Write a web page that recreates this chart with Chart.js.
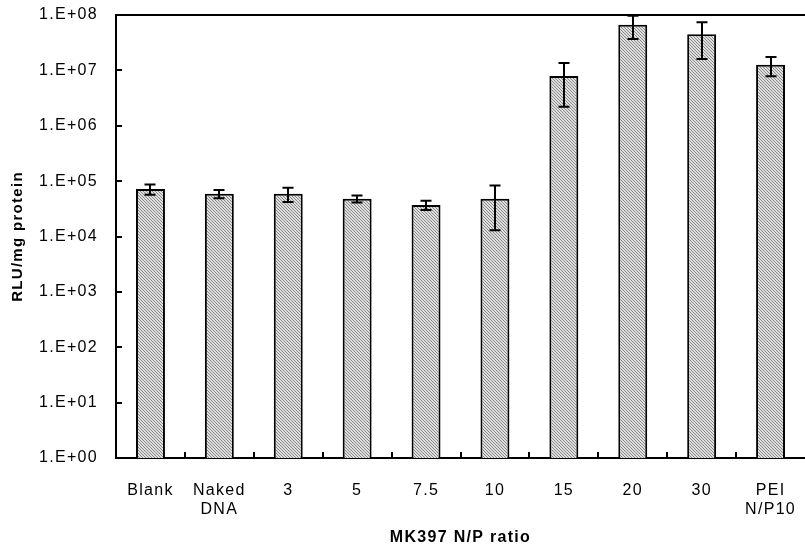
<!DOCTYPE html>
<html>
<head>
<meta charset="utf-8">
<script src="https://cdn.jsdelivr.net/npm/chart.js@4.4.0/dist/chart.umd.min.js"></script>
<style>
  html, body { margin: 0; padding: 0; background: #fff; }
  #wrap { width: 805px; height: 550px; }
</style>
</head>
<body>
<div id="wrap"><canvas id="c" width="805" height="550"></canvas></div>
<script>
// data
const categories = ['Blank', ['Naked', 'DNA'], '3', '5', '7.5', '10', '15', '20', '30', ['PEI', 'N/P10']];
const rlu = [7.2e4, 5.9e4, 5.9e4, 4.8e4, 3.7e4, 4.8e4, 7.9e6, 6.7e7, 4.5e7, 1.26e7];
const rluErr = [1.5e4, 1.0e4, 1.7e4, 7e3, 7e3, 3.5e4, 5.7e6, 3.0e7, 2.9e7, 4.8e6];
const yTicks = [1, 10, 100, 1e3, 1e4, 1e5, 1e6, 1e7, 1e8];

// hatched fill like the old Excel pattern
function hatch() {
    const p = document.createElement('canvas');
    p.width = 3; p.height = 3;
    const g = p.getContext('2d');
    g.fillStyle = '#dedede';
    g.fillRect(0, 0, 3, 3);
    g.fillStyle = '#8a8a8a';
    for (let i = 0; i < 3; i++) g.fillRect(i, i, 1, 1);
    return g.createPattern(p, 'repeat');
}

const ctx = document.getElementById('c').getContext('2d');

// the source text is set a bit loose, so widen it
const spacing = {
    id: 'spacing',
    beforeLayout(chart) { chart.ctx.letterSpacing = '1.3px'; },
    beforeDraw(chart) { chart.ctx.letterSpacing = '1.3px'; }
};

const extras = {
    id: 'extras',
    afterDatasetsDraw(chart) {
        const c = chart.ctx, a = chart.chartArea;
        const x = chart.scales.x, y = chart.scales.y;
        c.save();
        c.strokeStyle = '#000';
        // error bars
        c.lineWidth = 2;
        rlu.forEach((v, i) => {
            const cx = Math.round(x.getPixelForValue(i));
            const hi = y.getPixelForValue(v + rluErr[i]);
            const lo = y.getPixelForValue(Math.max(v - rluErr[i], 1));
            c.beginPath();
            c.moveTo(cx, hi); c.lineTo(cx, lo);
            c.moveTo(cx - 5.5, hi); c.lineTo(cx + 5.5, hi);
            c.moveTo(cx - 5.5, lo); c.lineTo(cx + 5.5, lo);
            c.stroke();
        });
        // top frame line
        c.beginPath();
        c.moveTo(a.left, a.top); c.lineTo(a.right, a.top);
        c.stroke();
        // inside ticks on y
        yTicks.forEach(t => {
            const py = Math.round(y.getPixelForValue(t));
            c.beginPath();
            c.moveTo(a.left, py); c.lineTo(a.left + 6, py);
            c.stroke();
        });
        // ticks between categories on x
        for (let i = 1; i < categories.length; i++) {
            const px = Math.round((x.getPixelForValue(i - 1) + x.getPixelForValue(i)) / 2);
            c.beginPath();
            c.moveTo(px, a.bottom); c.lineTo(px, a.bottom - 6);
            c.stroke();
        }
        c.restore();
    }
};

new Chart(ctx, {
    type: 'bar',
    data: {
        labels: categories,
        datasets: [{
            data: rlu,
            backgroundColor: hatch(),
            borderColor: '#000',
            borderWidth: 2,
            barPercentage: 0.42,
            categoryPercentage: 1
        }]
    },
    options: {
        responsive: false,
        animation: false,
        layout: { padding: { top: 15, right: 0, left: 0, bottom: 0 } },
        plugins: { legend: { display: false }, tooltip: { enabled: false } },
        scales: {
            x: {
                grid: { display: false, tickLength: 20 },
                border: { display: true, color: '#000', width: 2 },
                ticks: { color: '#000', font: { family: 'Liberation Sans', size: 16 }, padding: 3, maxRotation: 0, autoSkip: false },
                title: { display: true, text: 'MK397 N/P ratio', color: '#000', font: { family: 'Liberation Sans', size: 16, weight: 'bold' }, padding: { top: 2, bottom: 3 } },
                afterFit(s) { s.height = 92; s.paddingLeft = 0; s.paddingRight = 0; }
            },
            y: {
                type: 'logarithmic',
                min: 1, max: 1e8,
                afterBuildTicks(s) { s.ticks = yTicks.map(v => ({ value: v })); },
                grid: { display: false, tickLength: 15 },
                border: { display: true, color: '#000', width: 2 },
                ticks: {
                    color: '#000', font: { family: 'Liberation Sans', size: 16 }, padding: 3,
                    callback: v => '1.E+' + String(Math.round(Math.log10(v))).padStart(2, '0')
                },
                title: { display: true, text: 'RLU/mg protein', color: '#000', font: { family: 'Liberation Sans', size: 15, weight: 'bold' }, padding: { top: 9, bottom: 4 } },
                afterFit(s) { s.width = 116; s.paddingTop = 0; s.paddingBottom = 0; }
            }
        }
    },
    plugins: [spacing, extras]
});
</script>
</body>
</html>
